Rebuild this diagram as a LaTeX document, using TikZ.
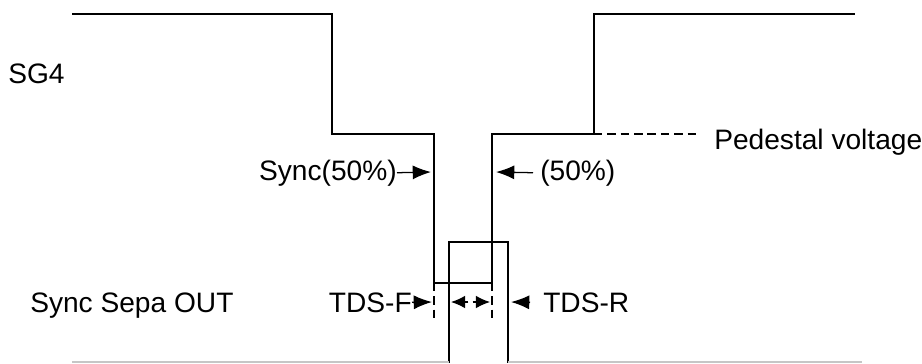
\documentclass[tikz,border=0pt]{standalone}
\usepackage{fontspec}
\setmainfont{Liberation Sans}
\usetikzlibrary{arrows.meta}

\begin{document}
\begin{tikzpicture}[x=0.025cm, y=-0.025cm,
  wave/.style={line width=1.1pt},
  guide/.style={line width=0.9pt, dash pattern=on 6pt off 3.5pt},
  marker/.style={line width=0.9pt, -{Latex[length=13pt,width=10pt]}},
  lbl/.style={font=\fontsize{20}{24}\selectfont, inner sep=0pt}]
\useasboundingbox (0,0) rectangle (922,363);

% SG4 waveform
\draw[wave] (72,14) -- (332,14) -- (332,134) -- (434,134) -- (434,283) -- (492,283)
  -- (492,134) -- (594,134) -- (594,14) -- (855,14);
\draw[guide] (594,134) -- (698,134);
\draw[guide] (434,283) -- (434,320);
\draw[guide] (492,283) -- (492,320);

% Sync Sepa OUT waveform
\draw[wave] (449,363) -- (449,242) -- (508,242) -- (508,363);
\draw[gray!45, line width=0.8pt] (72,362) -- (449,362);
\draw[gray!45, line width=0.8pt] (508,362) -- (862,362);

% labels
\node[lbl, anchor=base west] (sg) at (8,83) {SG4};
\node[lbl, anchor=base west] (ped) at (714,149) {Pedestal voltage};
\node[lbl, anchor=base east] (syncl) at (397,180) {Sync(50\%)};
\node[lbl, anchor=base west] (syncr) at (540,180) {(50\%)};
\node[lbl, anchor=base west] (out) at (30,312) {Sync Sepa OUT};
\node[lbl, anchor=base east] (tdsf) at (412,312) {TDS-F};
\node[lbl, anchor=base west] (tdsr) at (543,312) {TDS-R};

% arrow tips
\coordinate (fall) at (431,172);
\coordinate (rise) at (496,172);
\coordinate (tf) at (432,302);
\coordinate (tr) at (511,302);
\coordinate (wl) at (451,302);
\coordinate (wr) at (490,302);
\coordinate (wm) at (470.5,302);

\draw[marker] (syncl.east) -- (fall);
\draw[marker] (syncr.west) ++(-7,0) -- (rise);
\draw[marker] (tdsf.east) -- (tf);
\draw[marker] (tdsr.west) ++(-13,0) -- (tr);
\draw[marker, -{Latex[length=10pt,width=9pt]}] ([xshift=-1.5pt]wm) -- (wl);
\draw[marker, -{Latex[length=10pt,width=9pt]}] ([xshift=1.5pt]wm) -- (wr);
\end{tikzpicture}
\end{document}
